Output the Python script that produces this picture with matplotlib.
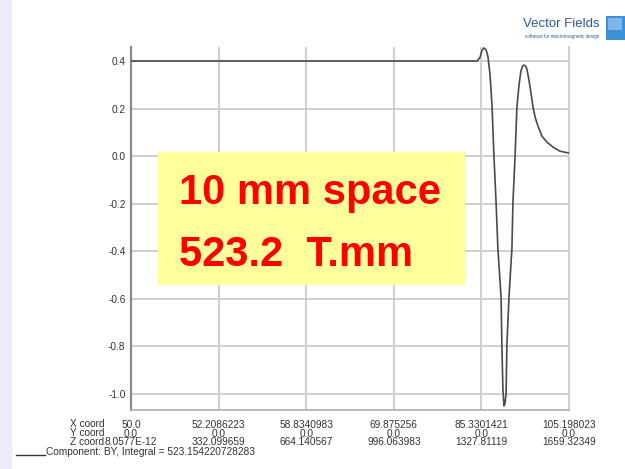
import matplotlib.pyplot as plt
from matplotlib.patches import Rectangle
from matplotlib.lines import Line2D

# data (distance along path vs BY)
z_path = [0, 1311, 1322, 1330, 1337, 1345, 1352, 1360, 1368, 1375, 1383, 1390,
          1402, 1405, 1409, 1413, 1417, 1421, 1424, 1432, 1436, 1443, 1447,
          1455, 1462, 1470, 1477, 1483, 1488, 1494, 1500, 1506, 1512, 1518,
          1523, 1532, 1542, 1557, 1576, 1599, 1625, 1659.32]
by_vals = [0.40, 0.40, 0.415, 0.445, 0.455, 0.448, 0.42, 0.345, 0.206, 0.0,
           -0.193, -0.39, -0.593, -0.795, -0.98, -1.05, -1.04, -0.996, -0.795,
           -0.593, -0.517, -0.39, -0.193, 0.0, 0.206, 0.30, 0.357, 0.378,
           0.383, 0.38, 0.366, 0.33, 0.29, 0.245, 0.206, 0.16, 0.126, 0.084,
           0.059, 0.038, 0.021, 0.013]

z_ticks = [0.0, 332.099659, 664.140567, 996.063983, 1327.81119, 1659.32349]
x_coord = ['50.0', '52.2086223', '58.8340983', '69.875256', '85.3301421', '105.198023']
y_coord = ['0.0', '0.0', '0.0', '0.0', '0.0', '0.0']
z_coord = ['8.0577E-12', '332.099659', '664.140567', '996.063983', '1327.81119', '1659.32349']
y_ticks = [0.4, 0.2, 0.0, -0.2, -0.4, -0.6, -0.8, -1.0]

W, H = 625, 469
def fx(px): return px / W
def fy(py): return 1 - py / H

plt.rcParams['font.family'] = ['Liberation Sans', 'DejaVu Sans']

fig = plt.figure(figsize=(6.25, 4.69), dpi=100)
fig.patch.set_facecolor('white')

# lavender stripe on the left
fig.add_artist(Rectangle((0, 0), fx(12), 1, transform=fig.transFigure,
                         facecolor='#ebebfb', edgecolor='none', zorder=0))

ax = fig.add_axes([fx(131), fy(410), fx(569) - fx(131), fy(47) - fy(410)])
line, = ax.plot(z_path, by_vals, color='#4a4a4a', lw=1.2, zorder=3,
                label='Component: BY, Integral = 523.154220728283')
ax.set_xlim(0, 1659.32349)
ax.set_ylim(-1.067, 0.459)

ax.set_yticks(y_ticks)
ax.set_yticklabels(['%.1f' % v for v in y_ticks])
ax.set_xticks(z_ticks)
ax.set_xticklabels(['%s\n%s\n%s' % (a, b, c) for a, b, c in zip(x_coord, y_coord, z_coord)])
for t in ax.get_xticklabels():
    t.set_linespacing(0.85)
ax.tick_params(axis='both', length=0, labelsize=7.3, colors='#333333')
ax.tick_params(axis='y', pad=4)
ax.tick_params(axis='x', pad=7)
ax.grid(True, color='#cfcfcf', lw=1.4)
ax.set_axisbelow(True)

ax.spines['top'].set_visible(False)
ax.spines['left'].set_color('#8a8a8a')
ax.spines['left'].set_linewidth(1.6)
ax.spines['bottom'].set_color('#b0b0b0')
ax.spines['bottom'].set_linewidth(1.2)
ax.spines['right'].set_color('#cfcfcf')
ax.spines['right'].set_linewidth(1.4)

fig.text(fx(70), fy(419), 'X coord\nY coord\nZ coord', fontsize=7.3, color='#333333',
         ha='left', va='top', linespacing=0.85)

# legend row: underline-style sample then the label
fig.add_artist(Line2D([fx(16), fx(45)], [fy(455), fy(455)], transform=fig.transFigure,
                      color='#333333', lw=1.0))
fig.text(fx(46), fy(455), line.get_label(), fontsize=7.3, color='#333333',
         ha='left', va='baseline')

# yellow annotation box
fig.add_artist(Rectangle((fx(158), fy(285)), fx(465) - fx(158), fy(152) - fy(285),
                         transform=fig.transFigure, facecolor='#ffff9c',
                         edgecolor='none', zorder=5))
fig.text(fx(179), fy(204), '10 mm space', fontsize=30, fontweight='bold',
         color='#ff0000', ha='left', va='baseline', zorder=6)
fig.text(fx(179), fy(266), '523.2  T.mm', fontsize=30, fontweight='bold',
         color='#ff0000', ha='left', va='baseline', zorder=6)

# Vector Fields logo
fig.text(fx(600), fy(27), 'Vector Fields', fontsize=9.5, color='#2a5b9a',
         ha='right', va='baseline')
fig.text(fx(599), fy(38), 'software for electromagnetic design', fontsize=3.3,
         color='#2a5b9a', ha='right', va='baseline')
fig.add_artist(Rectangle((fx(606), fy(40)), fx(625) - fx(606), fy(16) - fy(40),
                         transform=fig.transFigure, facecolor='#3d8fd6',
                         edgecolor='none'))
fig.add_artist(Rectangle((fx(608), fy(30)), fx(622) - fx(608), fy(18) - fy(30),
                         transform=fig.transFigure, facecolor='#9cc8ee',
                         edgecolor='none', alpha=0.7))

fig.savefig('out.png', dpi=100)
